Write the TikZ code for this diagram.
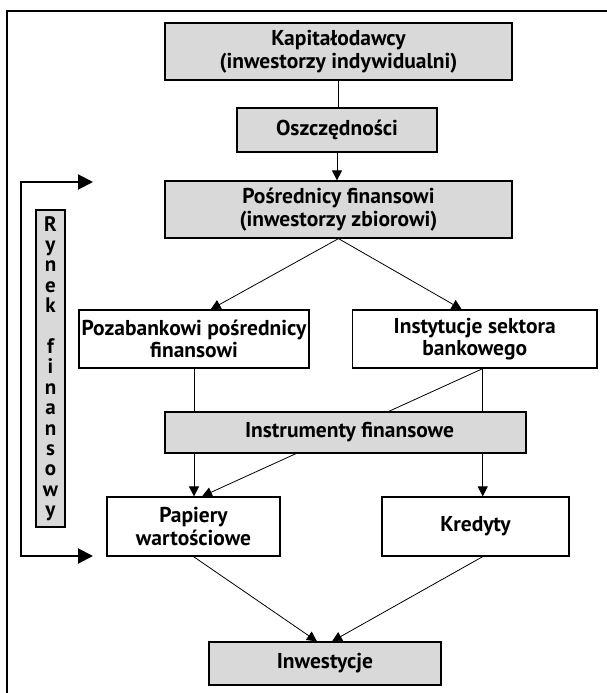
\documentclass[tikz,border=0pt]{standalone}
\usepackage{fontspec}
\setmainfont{PT Sans}
\usetikzlibrary{arrows.meta,calc}
\definecolor{boxgray}{HTML}{D9D9D9}
\tikzset{
  gbox/.style={draw=black, fill=boxgray, line width=1.2pt, inner sep=0pt, align=center, font=\bfseries\fontsize{21.5}{22.5}\selectfont},
  wbox/.style={gbox, fill=white},
  conn/.style={line width=0.8pt},
  arr/.style={line width=0.8pt, -{Triangle[length=10pt,width=10pt]}},
  brk/.style={line width=2pt, {Triangle[length=15pt,width=15pt]}-{Triangle[length=15pt,width=15pt]}},
}
\begin{document}
\begin{tikzpicture}[x=1pt,y=-1pt]
\useasboundingbox (0,0) rectangle (607,693);
% outer frame
\coordinate (fr1) at (607,11);
\coordinate (fr2) at (7,11);
\coordinate (fr3) at (7,693);
\draw[line width=1.2pt] (fr1) -- (fr2) -- (fr3);
% boxes
\node[gbox, minimum width=347pt, minimum height=57pt] (kap) at (338.5,51.5) {Kapitałodawcy\\(inwestorzy indywidualni)};
\node[gbox, minimum width=200pt, minimum height=44pt] (osz) at (337,130) {Oszczędności};
\node[gbox, minimum width=347pt, minimum height=57pt] (pos) at (338.5,209.5) {Pośrednicy finansowi\\(inwestorzy zbiorowi)};
\node[wbox, minimum width=230pt, minimum height=58pt] (poz) at (194,339) {Pozabankowi pośrednicy\\finansowi};
\node[wbox, minimum width=244.5pt, minimum height=58pt] (ins) at (474.75,339) {Instytucje sektora\\bankowego};
\node[wbox, minimum width=173pt, minimum height=59pt] (pap) at (193.5,526.5) {Papiery\\wartościowe};
\node[wbox, minimum width=187pt, minimum height=59pt] (kre) at (475.5,526.5) {Kredyty};
\node[gbox, minimum width=232pt, minimum height=43pt] (inw) at (325,663.5) {Inwestycje};
% helper coordinates
\coordinate (insL) at ($(ins.south)+(8,0)$);
\coordinate (papT) at ($(pap.north)+(8.5,0)$);
% diagonal behind the instruments box
\draw[arr] (insL) -- (papT);
\node[gbox, minimum width=361pt, minimum height=41pt] (instr) at (345.5,432.5) {\hspace*{8pt}Instrumenty finansowe};
% vertical label bar
\node[gbox, minimum width=29pt, minimum height=317pt, font=\bfseries\fontsize{21}{20.4}\selectfont] (bar) at (50.5,368.5) {R\\y\\n\\e\\k\\[20.4pt]f\\i\\n\\a\\n\\s\\o\\w\\y};
% bracket
\coordinate (bt) at (93,182);
\coordinate (bb) at (93,556);
\coordinate (bl1) at (21,182);
\coordinate (bl2) at (21,556);
\draw[brk] (bt) -- (bl1) -- (bl2) -- (bb);
% connectors
\draw[conn] (kap.south) -- (kap.south |- osz.north);
\draw[arr] (osz.south) -- (osz.south |- pos.north);
\coordinate (pozT) at ($(poz.north)+(16.7,0)$);
\coordinate (insT) at ($(ins.north)+(-13,0)$);
\draw[arr] (pos.south) -- (pozT);
\draw[arr] (pos.south) -- (insT);
\draw[conn] (poz.south) -- (poz.south |- instr.north);
\draw[conn] (insL) -- (insL |- instr.north);
\draw[arr] (poz.south |- instr.south) -- (poz.south |- pap.north);
\draw[arr] (insL |- instr.south) -- (insL |- kre.north);
\coordinate (inwL) at ($(inw.north)+(-8,0)$);
\coordinate (inwR) at ($(inw.north)+(7,0)$);
\draw[arr] (pap.south) -- (inwL);
\draw[arr] (insL |- kre.south) -- (inwR);
\end{tikzpicture}
\end{document}
